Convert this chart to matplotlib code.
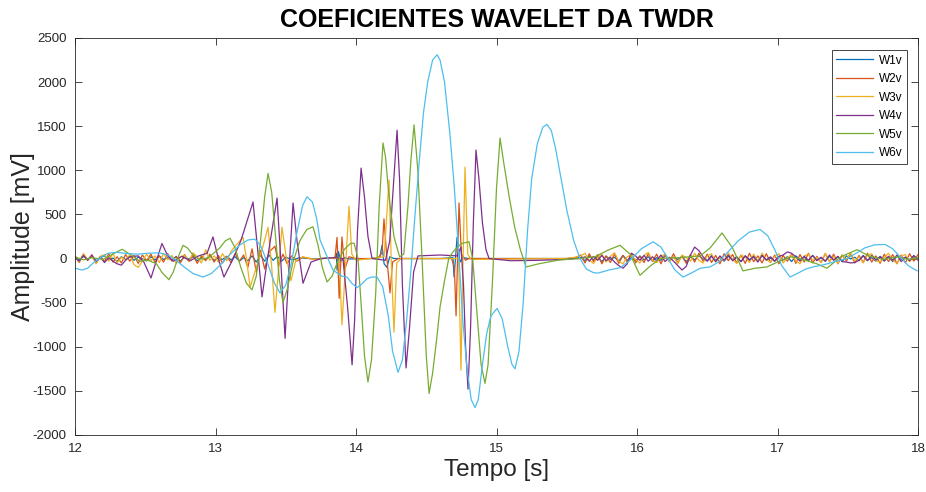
import numpy as np
import matplotlib
matplotlib.use("Agg")
import matplotlib.pyplot as plt

# --- data (mV vs s) ---
names = ["W1v", "W2v", "W3v", "W4v", "W5v", "W6v"]
colors = ["#0072BD", "#D95319", "#EDB120", "#7E2F8E", "#77AC30", "#4DBEEE"]

# W1v
w1_noise_a = [15, -20, 25, -10, 20, -25, 10, 30, -15, 5, -30, 20, -10, 25, -20, 15, -5, -25, 20, -15, 30,
              -10, 10, -20, 25, -30, 15, -5, 20, -25, 10, -15, 30, -20, 5, -10, 25, -15, 20, -30, 10]
w1_t = [13.23, 13.26, 13.29, 13.32, 13.35, 13.38, 13.41, 13.44, 13.47, 13.50, 13.55, 13.60, 13.70, 13.80,
        13.85, 13.86, 13.865, 13.875, 13.89, 13.92, 13.95, 14.10, 14.17, 14.185, 14.20, 14.22, 14.24, 14.27,
        14.60, 14.69, 14.698, 14.719, 14.74, 14.76, 14.80, 15.50, 15.56]
w1_v = [-25, 30, -40, 35, -30, 40, -20, 25, -30, 15, -15, 10, -5, 5,
        0, 60, -130, 80, -30, 10, -5, 0, 10, 150, -60, -100, 20, 0,
        0, 10, -210, 240, -40, 10, 0, 0, 5]
w1_noise_b = [10, -25, 30, -15, 20, -35, 25, -10, 15, -30, 35, -20, 5, -25, 30, -15, 20, -30, 10, -20, 35,
              -25, 15, -10, 25, -35, 20, -15, 30, -5, -25, 35, -20, 10, -30, 25, -15, 20, -35, 30, -10,
              15, -25, 35, -20, 5, -30, 25, -15, 20, -35, 30, -10, 15, -25, 35, -20, 10, -30, 25, -15,
              20, -35, 30, -5, 15, -25, 35, -20, 10, -30, 25, -15, 20, -35, 30, -10, 15, -25, 35, -20]

# W2v
w2_noise_a = [30, -45, 50, -20, 40, -50, 25, -35, 55, -40, 20, -50, 45, -30, 35, -55, 40, -25, 50, -45, 30,
              -40, 55, -30, 20, -50, 45, -35, 40, -55, 30, -25, 50, -40, 35, -50, 25, -45, 55, -30, 40]
w2_t = [13.23, 13.26, 13.29, 13.32, 13.35, 13.38, 13.423, 13.45, 13.48, 13.51, 13.54, 13.58, 13.62, 13.70,
        13.80, 13.85, 13.865, 13.88, 13.90, 13.92, 13.95, 14.00, 14.15, 14.185, 14.199, 14.22, 14.242,
        14.26, 14.30, 14.68, 14.70, 14.712, 14.733, 14.75, 14.78, 14.80, 15.50, 15.56]
w2_v = [-100, 110, -150, 90, -120, 70, 140, -80, 50, -60, 30, -30, 15, -10,
        5, 0, 240, -450, 245, -120, 20, 0, 0, 60, 450, 0, -390,
        -40, 0, 0, -100, -650, 630, 50, -20, 0, 0, 10]
w2_noise_b = [40, -50, 55, -35, 45, -60, 30, -45, 50, -55, 35, -40, 60, -50, 25, -45, 55, -30, 50, -60, 40,
              -35, 55, -50, 30, -55, 45, -40, 60, -30, 50, -45, 35, -60, 55, -25, 45, -50, 40, -55, 60,
              -35, 30, -50, 55, -45, 40, -60, 35, -30, 50, -55, 45, -40, 60, -50, 25, -45, 55, -35, 50,
              -60, 40, -30, 55, -50, 35, -45, 60, -40, 30, -55, 50, -35, 45, -60, 40, -50, 55, -30, 45]

# W3v
w3_noise_a = [20, -40, 55, -10, 35, -60, 25, 45, -30, 60, -50, 15, -20, 40, -70, -100, -30, 50, -25, 30,
              -45, 60, -15, 35, -55, 20, 40, -35, 65, 20, -50, 100, -20, 30, -40, 55, -25, 80, 140]
w3_t = [13.196, 13.22, 13.246, 13.30, 13.34, 13.374, 13.40, 13.423, 13.45, 13.473, 13.50, 13.537, 13.57,
        13.62, 13.70, 13.80, 13.88, 13.90, 13.925, 13.95, 13.97, 14.00, 14.10, 14.20, 14.235, 14.25, 14.27,
        14.29, 14.32, 14.73, 14.747, 14.762, 14.776, 14.795, 14.82, 15.50, 15.56]
w3_v = [240, 0, -325, -50, 150, 355, -100, -610, -100, 355, 50, -250, -30,
        20, -10, 5, 0, -750, -100, 595, 50, -20, 0, 20, 890, 0, -835,
        -50, 0, 0, -1265, 0, 1035, 50, -10, 0, 15]
w3_noise_b = [30, 60, -20, -55, 10, 50, -40, 25, 65, -30, -60, 20, 45, -15, -50, 35, 70, -25, -45, 15, 55,
              -35, 20, -60, 40, 10, -30, 60, -20, -50, 30, 55, -40, 15, -25, 65, -10, -55, 35, 20, -45,
              50, -30, 60, -15, -40, 25, 55, -50, 10, 40, -25, -60, 30, 50, -20, 15, -45, 60, -35, 25,
              -55, 40, -10, 65, -30, 20, -50, 35, 55, -25, -40, 15, 60, -20, -55, 30, 45, -35, 20, -15]

# W4v
w4_noise_a = [10, -30, 35, -20, 40, -35, 15, -45, 10, -30, -60, -75, -20, 20]
w4_t = [12.45, 12.49, 12.541, 12.58, 12.619, 12.66, 12.70, 12.76, 12.82, 12.88, 12.94, 12.982, 13.02,
        13.06, 13.12, 13.18, 13.267, 13.30, 13.331, 13.37, 13.438, 13.46, 13.495, 13.52, 13.552, 13.58,
        13.623, 13.68, 13.75, 13.85, 13.907, 13.94, 13.972, 13.99, 14.01, 14.036, 14.06, 14.085, 14.114,
        14.21, 14.24, 14.265, 14.292, 14.31, 14.33, 14.356, 14.38, 14.41, 14.441, 14.60, 14.72, 14.747,
        14.765, 14.78, 14.797, 14.815, 14.835, 14.854, 14.875, 14.90, 14.925, 14.947, 15.10, 15.30, 15.50,
        15.56]
w4_v = [30, -40, -220, -20, 170, 30, -30, 25, -25, 30, 60, 245, 0,
        -210, -20, 200, 640, 100, -435, 0, 685, 100, -905, -200, 630, 200,
        -280, -40, 0, 10, 0, -550, -1205, -700, 300, 1025, 700, 250, 0,
        -20, 200, 800, 1455, 900, -300, -1240, -800, -150, 30, 40, 30, 130,
        -300, -1000, -1480, -800, 400, 1230, 900, 400, 100, 0, -25, -20, -10,
        0]
w4_noise_b = [0, 20, -30, 25, -20, 35, -25, 15, -40, -80, -110, -60, 60, 30, -20, 35, -30, 20, -25, 40,
              -35, 15, -30, -80, -130, -90, 40, 130, 90, 20, -30, 25, -35, 30, -20, 40, -25, 15, -35, 30,
              -20, 25, -40, 35, -15, 20, -30, 25, 40, 75, 60, 20, -30, 25, -20, 35, -25, 15, -30, 40,
              -20, 25, -35, -40, -50, -45, -20, 30, -25, 35, -15, 20, -30, 25, -20, 40, -35, 15, -25, 30, -10]

# W5v (smooth)
w5_t = [12.00, 12.06, 12.12, 12.20, 12.28, 12.335, 12.40, 12.46, 12.52, 12.58, 12.62, 12.669, 12.70,
        12.74, 12.769, 12.80, 12.83, 12.88, 12.95, 13.03, 13.07, 13.103, 13.14, 13.18, 13.22, 13.26, 13.29,
        13.32, 13.35, 13.374, 13.40, 13.43, 13.455, 13.48, 13.51, 13.55, 13.60, 13.65, 13.694, 13.73,
        13.76, 13.794, 13.83, 13.87, 13.92, 13.96, 13.986, 14.014, 14.04, 14.06, 14.085, 14.11, 14.14,
        14.165, 14.192, 14.21, 14.235, 14.27, 14.31, 14.34, 14.37, 14.39, 14.413, 14.44, 14.47, 14.50,
        14.52, 14.545, 14.575, 14.598, 14.63, 14.66, 14.69, 14.75, 14.804, 14.83, 14.86, 14.89, 14.918,
        14.94, 14.97, 15.00, 15.025, 15.05, 15.09, 15.13, 15.17, 15.21, 15.30, 15.452, 15.594, 15.70,
        15.80, 15.879, 15.95, 16.021, 16.09, 16.164, 16.30, 16.45, 16.52, 16.605, 16.68, 16.754, 16.84,
        16.925, 17.00, 17.10, 17.20, 17.28, 17.352, 17.45, 17.566, 17.65, 17.75, 17.85, 17.93, 18.00]
w5_v = [20, -15, 10, -10, 60, 105, 40, -30, -20, -60, -160, -240, -150,
        40, 150, 120, 60, -10, 10, 120, 200, 230, 120, -100, -280, -355, -200,
        200, 700, 965, 750, 200, -250, -500, -350, -50, 200, 330, 360, 150,
        -100, -265, -200, -30, 110, 170, 175, 0, -600, -1100, -1400, -1150, -400,
        600, 1310, 1150, 700, 250, 20, 50, 600, 1100, 1515, 1000, 0, -1100,
        -1530, -1300, -900, -550, -250, 0, 75, 170, 190, 0, -600, -1200, -1415,
        -1200, -300, 800, 1365, 1100, 700, 350, 100, -95, -60, -15, 0, 20,
        100, 150, 50, -190, -90, 0, 10, 30, 120, 290, 120, -140, -110,
        -95, -40, 20, -20, -60, -110, 20, 100, 30, -10, 20, -10, 10]

# W6v (smooth)
w6_t = [12.00, 12.05, 12.09, 12.13, 12.18, 12.235, 12.30, 12.38, 12.45, 12.52, 12.60, 12.66, 12.72,
        12.78, 12.84, 12.911, 12.97, 13.03, 13.10, 13.17, 13.23, 13.28, 13.32, 13.37, 13.42, 13.459,
        13.50, 13.54, 13.58, 13.62, 13.651, 13.69, 13.72, 13.744, 13.80, 13.836, 13.90, 13.936, 13.97,
        14.007, 14.04, 14.078, 14.11, 14.149, 14.19, 14.23, 14.26, 14.299, 14.33, 14.36, 14.39, 14.42,
        14.45, 14.48, 14.51, 14.545, 14.577, 14.598, 14.63, 14.669, 14.70, 14.733, 14.76, 14.79, 14.82,
        14.847, 14.87, 14.90, 14.93, 14.96, 15.004, 15.04, 15.08, 15.11, 15.132, 15.16, 15.19, 15.22,
        15.25, 15.29, 15.33, 15.359, 15.39, 15.42, 15.46, 15.50, 15.55, 15.594, 15.64, 15.69, 15.722,
        15.80, 15.879, 15.95, 16.03, 16.114, 16.17, 16.22, 16.27, 16.327, 16.38, 16.45, 16.52, 16.58,
        16.65, 16.72, 16.80, 16.875, 16.93, 16.98, 17.03, 17.089, 17.14, 17.20, 17.253, 17.33, 17.42,
        17.495, 17.56, 17.62, 17.69, 17.765, 17.82, 17.872, 17.93, 17.993]
w6_v = [-110, -130, -110, -50, 10, 60, 70, 55, 50, 60, 65, 40, -20,
        -100, -170, -210, -170, -80, 40, 150, 210, 220, 150, -50, -280, -390,
        -300, -50, 300, 600, 700, 640, 450, 210, 0, -130, -200, -210, -280,
        -330, -290, -230, -210, -210, -320, -650, -1050, -1290, -1150, -700, -150, 500,
        1100, 1650, 2000, 2250, 2310, 2250, 2000, 1400, 800, 0, -700, -1250, -1600,
        -1690, -1600, -1200, -850, -650, -565, -680, -1000, -1200, -1250, -1050, -500, 300,
        900, 1300, 1490, 1520, 1450, 1250, 900, 550, 200, 0, -120, -160, -165,
        -130, -105, -20, 110, 190, 130, 0, -130, -210, -170, -110, -95, -40,
        80, 200, 300, 330, 260, 100, -80, -210, -170, -120, -95, -70, -30,
        0, 60, 120, 155, 160, 110, 20, -80, -140]


def series(noise_a, a_end, t, v, noise_b):
    # noise samples spread evenly over their stretch, then the read keypoints
    ta = np.linspace(12.0, a_end, len(noise_a))
    tb = np.linspace(15.6, 18.0, len(noise_b))
    return (np.concatenate([ta, t, tb]), np.concatenate([noise_a, v, noise_b]))


data = [
    series(w1_noise_a, 13.20, w1_t, w1_v, w1_noise_b),
    series(w2_noise_a, 13.20, w2_t, w2_v, w2_noise_b),
    series(w3_noise_a, 13.14, w3_t, w3_v, w3_noise_b),
    series(w4_noise_a, 12.39, w4_t, w4_v, w4_noise_b),
    (np.array(w5_t), np.array(w5_v)),
    (np.array(w6_t), np.array(w6_v)),
]

plt.rcParams['font.family'] = ['Liberation Sans', 'DejaVu Sans']
plt.rcParams['axes.unicode_minus'] = False

fig = plt.figure(figsize=(9.26, 4.92), dpi=100)
ax = fig.add_axes([0.081, 0.1159, 0.9104, 0.8069])

for (t, v), name, c in zip(data, names, colors):
    ax.plot(t, v, color=c, lw=0.9, label=name)

ax.set_xlim(12, 18)
ax.set_ylim(-2000, 2500)
ax.set_xticks(np.arange(12, 19, 1))
ax.set_yticks(np.arange(-2000, 2501, 500))
ax.tick_params(direction='in', top=True, right=True, labelsize=9.5, colors='#262626', length=5, width=0.6)
ax.tick_params(axis='y', pad=6)
ax.tick_params(axis='x', pad=6)
for s in ax.spines.values():
    s.set_color('#262626')
    s.set_linewidth(0.6)

ax.set_title("COEFICIENTES WAVELET DA TWDR", fontsize=18, fontweight='bold', pad=8)
ax.set_xlabel("Tempo [s]", fontsize=17.5, color='#262626', labelpad=3)
ax.set_ylabel("Amplitude [mV]", fontsize=18, color='#262626', labelpad=-2)

leg = ax.legend(loc='upper right', bbox_to_anchor=(0.987, 0.97), borderaxespad=0, fontsize=8.5,
                fancybox=False, framealpha=1, edgecolor='#262626', handlelength=3.1, borderpad=0.4,
                labelspacing=0.55, handletextpad=0.5)
leg.get_frame().set_linewidth(0.6)

fig.savefig("out.png", dpi=100)
